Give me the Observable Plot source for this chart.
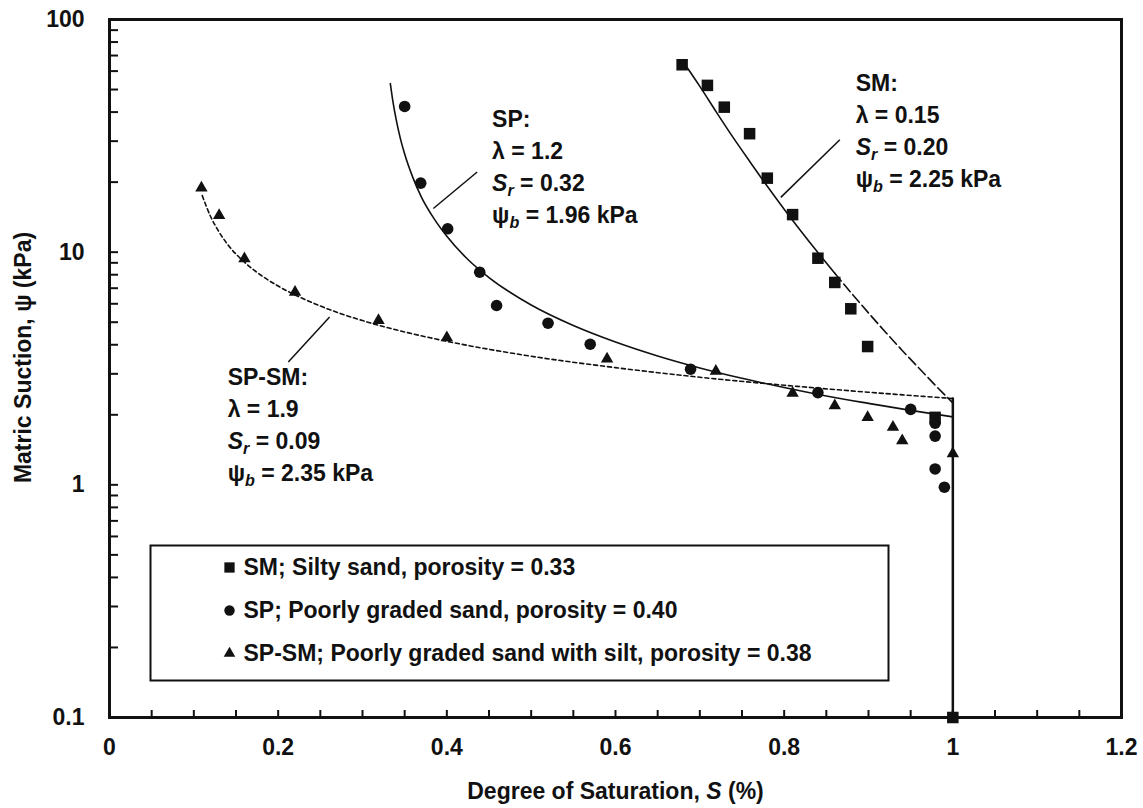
<!DOCTYPE html>
<html>
<head>
<meta charset="utf-8">
<script src="https://cdn.jsdelivr.net/npm/d3@7"></script>
<script src="https://cdn.jsdelivr.net/npm/@observablehq/plot@0.6"></script>
<style>
  html, body { margin: 0; padding: 0; background: #fff; }
  #chart svg { display: block; }
</style>
</head>
<body>
<div id="chart"></div>
<script>
// ---------------- data ----------------
// Measured points: degree of saturation S, matric suction psi (kPa)
const smS   = [0.679, 0.709, 0.729, 0.759, 0.780, 0.810, 0.840, 0.860, 0.879, 0.899, 0.979, 1.000];
const smPsi = [63.9, 52.1, 42.0, 32.3, 20.8, 14.5, 9.42, 7.41, 5.71, 3.93, 1.95, 0.1];

const spS   = [0.350, 0.369, 0.401, 0.439, 0.459, 0.520, 0.570, 0.689, 0.840, 0.950, 0.979, 0.979, 0.979, 0.990];
const spPsi = [42.3, 19.8, 12.6, 8.2, 5.90, 4.95, 4.02, 3.14, 2.49, 2.11, 1.84, 1.62, 1.17, 0.977];

const spsmS   = [0.109, 0.130, 0.160, 0.220, 0.319, 0.400, 0.590, 0.719, 0.810, 0.860, 0.899, 0.929, 0.940, 1.000];
const spsmPsi = [18.9, 14.4, 9.37, 6.73, 5.09, 4.29, 3.48, 3.08, 2.48, 2.19, 1.95, 1.77, 1.55, 1.36];

// Fitted curves
const smCurveS   = [0.68, 0.70, 0.72, 0.74, 0.76, 0.78, 0.80, 0.82, 0.84, 0.86, 0.88, 0.90, 0.92, 0.94, 0.96, 0.98, 1.00];
const smCurvePsi = [66, 51.6, 39.8, 30.9, 24.3, 19.2, 15.3, 12.3, 9.96, 8.12, 6.65, 5.48, 4.54, 3.78, 3.17, 2.66, 2.25];
const smSolidUntil = 0.86;

const spCurveS   = [0.333, 0.336, 0.34, 0.345, 0.35, 0.36, 0.37, 0.385, 0.40, 0.425, 0.45, 0.50, 0.55, 0.60, 0.65, 0.70, 0.75, 0.80, 0.85, 0.90, 0.95, 1.00];
const spCurvePsi = [53.0, 44.6, 37.0, 30.7, 26.4, 20.8, 17.2, 13.9, 11.7, 9.30, 7.78, 5.93, 4.84, 4.11, 3.58, 3.18, 2.87, 2.62, 2.41, 2.24, 2.09, 1.96];

const spsmCurveS   = [0.11, 0.12, 0.13, 0.14, 0.16, 0.18, 0.20, 0.25, 0.30, 0.35, 0.40, 0.50, 0.60, 0.70, 0.80, 0.90, 1.00];
const spsmCurvePsi = [17.5, 14.2, 12.2, 10.8, 9.06, 7.94, 7.15, 5.87, 5.08, 4.54, 4.14, 3.57, 3.19, 2.90, 2.68, 2.50, 2.35];

// Saturated branch (S = 1 below the air-entry value)
const satS   = [1, 1];
const satPsi = [2.35, 0.1];

// Annotations
const noteLines = [
  ["SP:",    "λ = 1.2",  "*S*_r = 0.32", "ψ_b = 1.96 kPa"],
  ["SM:",    "λ = 0.15", "*S*_r = 0.20", "ψ_b = 2.25 kPa"],
  ["SP-SM:", "λ = 1.9",  "*S*_r = 0.09", "ψ_b = 2.35 kPa"]
];
const noteS   = [0.4537, 0.8848, 0.1401];
const notePsi = [37.2, 53.1, 2.89];
const leaderS1   = [0.384, 0.796, 0.261];
const leaderPsi1 = [15.4, 17.2, 5.26];
const leaderS2   = [0.436, 0.866, 0.212];
const leaderPsi2 = [22.1, 30.4, 3.37];

// Legend
const legendLabels  = ["SM; Silty sand, porosity = 0.33", "SP; Poorly graded sand, porosity = 0.40", "SP-SM; Poorly graded sand with silt, porosity = 0.38"];
const legendSymbols = ["square", "circle", "triangle"];

// Axes
const xTickValues = [0, 0.2, 0.4, 0.6, 0.8, 1, 1.2];
const yTickValues = [0.1, 1, 10, 100];
const xTitle = "Degree of Saturation, *S* (%)";
const yTitle = "Matric Suction, ψ (kPa)";

// ---------------- build ----------------
const pts = (xs, ys) => xs.map((x, i) => ({x, y: ys[i]}));
const smPts = pts(smS, smPsi), spPts = pts(spS, spPsi), spsmPts = pts(spsmS, spsmPsi);
const smCurve = pts(smCurveS, smCurvePsi);
const spCurve = pts(spCurveS, spCurvePsi);
const spsmCurve = pts(spsmCurveS, spsmCurvePsi);
const satLine = pts(satS, satPsi);
const notes = noteLines.map((lines, i) => ({lines, x: noteS[i], y: notePsi[i]}));
const leaders = leaderS1.map((x1, i) => ({x1, y1: leaderPsi1[i], x2: leaderS2[i], y2: leaderPsi2[i]}));

const W = 1143, H = 808, ML = 109, MR = 22, MT = 19, MB = 91;
const PW = W - ML - MR, PH = H - MT - MB;
const xMinor = d3.range(1, 24).map(i => i * 0.05);
const yMinor = [0.1, 1, 10].flatMap(k => d3.range(1, 10).map(m => m * k)).filter(v => v > 0.1);
const ink = "#111";
const FS = 23;

const marks = [
  Plot.tickX(xMinor, {x: d => d, insetTop: PH - 7, stroke: ink, strokeWidth: 2}),
  Plot.tickY(yMinor, {y: d => d, insetRight: PW - 9, stroke: ink, strokeWidth: 2}),
  Plot.axisX({ticks: xTickValues, tickSize: 0, tickPadding: 21, tickFormat: d => String(d),
    label: xTitle, labelAnchor: "center", labelArrow: "none", labelOffset: 81, fontSize: FS}),
  Plot.axisY({ticks: yTickValues, tickSize: 0, tickPadding: 25, tickFormat: d => String(d),
    label: null, fontSize: FS}),
  Plot.text([yTitle], {frameAnchor: "left", text: d => d, rotate: -90, dx: -95, dy: -11,
    textAnchor: "middle", lineAnchor: "top", fontSize: FS, fontWeight: "bold", fill: ink}),
  // fitted curves
  Plot.line(smCurve.filter(d => d.x <= smSolidUntil), {x: "x", y: "y", stroke: ink, strokeWidth: 1.6, curve: "monotone-x"}),
  Plot.line(smCurve.filter(d => d.x >= smSolidUntil), {x: "x", y: "y", stroke: ink, strokeWidth: 1.6, strokeDasharray: "10,4", curve: "monotone-x"}),
  Plot.line(spCurve, {x: "x", y: "y", stroke: ink, strokeWidth: 1.6, curve: "monotone-x"}),
  Plot.line(spsmCurve, {x: "x", y: "y", stroke: ink, strokeWidth: 1.6, strokeDasharray: "4,3", curve: "monotone-x"}),
  Plot.line(satLine, {x: "x", y: "y", stroke: ink, strokeWidth: 2.5}),
  // measured points
  Plot.dot(smPts, {x: "x", y: "y", symbol: "square", r: 6.5, fill: ink, stroke: "none"}),
  Plot.dot(spPts, {x: "x", y: "y", symbol: "circle", r: 5.8, fill: ink, stroke: "none"}),
  Plot.dot(spsmPts, {x: "x", y: "y", symbol: "triangle", r: 4.6, fill: ink, stroke: "none"}),
  // annotation leaders and texts
  Plot.link(leaders, {x1: "x1", y1: "y1", x2: "x2", y2: "y2", stroke: ink, strokeWidth: 1.5}),
  ...[0, 1, 2, 3].map(k => Plot.text(notes, {x: "x", y: "y", text: d => d.lines[k], dy: k * 32,
    textAnchor: "start", lineAnchor: "middle", fontSize: FS, fontWeight: "bold", fill: ink})),
  // legend
  Plot.frame({insetLeft: 41, insetTop: 526, insetRight: 233, insetBottom: 37, stroke: ink, strokeWidth: 2}),
  ...legendLabels.flatMap((lab, i) => [
    Plot.dot([lab], {frameAnchor: "top-left", dx: 120, dy: 548 + i * 43, symbol: legendSymbols[i],
      r: legendSymbols[i] === "square" ? 5.8 : legendSymbols[i] === "circle" ? 5.2 : 4.3, fill: ink, stroke: "none"}),
    Plot.text([lab], {frameAnchor: "top-left", dx: 134, dy: 548 + i * 43, text: d => d,
      textAnchor: "start", lineAnchor: "middle", fontSize: FS, fontWeight: "bold", fill: ink})
  ]),
  Plot.frame({stroke: ink, strokeWidth: 3})
];

const chart = Plot.plot({
  width: W, height: H,
  marginLeft: ML, marginRight: MR, marginTop: MT, marginBottom: MB,
  style: {fontFamily: "'Liberation Sans', Arial, Helvetica, sans-serif", fontSize: FS + "px", fontWeight: "bold", color: ink, background: "#fff"},
  x: {domain: [0, 1.2]},
  y: {type: "log", domain: [0.1, 100]},
  marks
});

// Rich text: *x* = italic, _c = italic subscript character
function richify(root) {
  const NS = "http://www.w3.org/2000/svg";
  root.querySelectorAll("text, tspan").forEach(el => {
    if (el.childElementCount) return;
    const s = el.textContent;
    if (!/[*_]/.test(s)) return;
    el.textContent = "";
    let italic = false, buf = "", reset = 0;
    const push = (t, it, sub) => {
      if (!t) return;
      const ts = document.createElementNS(NS, "tspan");
      ts.textContent = t;
      if (it) ts.setAttribute("font-style", "italic");
      if (sub) {
        ts.setAttribute("font-size", "70%");
        ts.setAttribute("dy", "5");
        reset = -5;
      } else if (reset) {
        ts.setAttribute("dy", String(reset));
        reset = 0;
      }
      el.appendChild(ts);
    };
    for (let i = 0; i < s.length; i++) {
      const c = s[i];
      if (c === "*") { push(buf, italic); buf = ""; italic = !italic; }
      else if (c === "_") { push(buf, italic); buf = ""; i++; push(s[i], true, true); }
      else buf += c;
    }
    push(buf, italic);
  });
}
richify(chart);
document.getElementById("chart").appendChild(chart);
</script>
</body>
</html>
